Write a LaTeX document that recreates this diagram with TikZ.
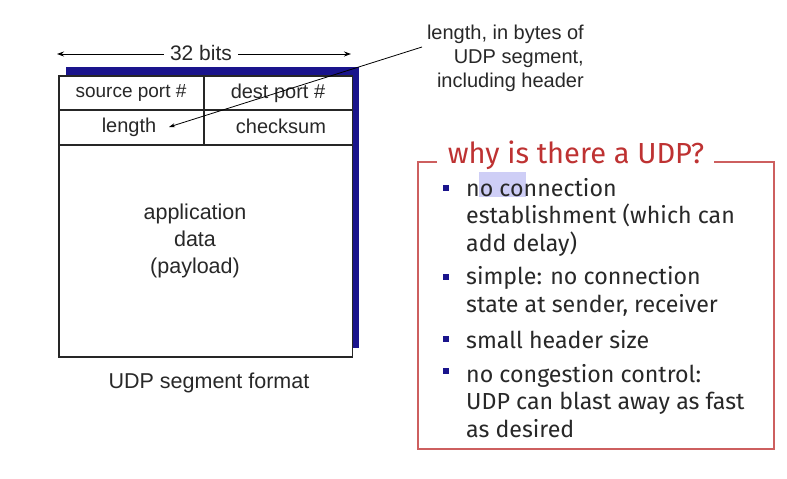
\documentclass[tikz,border=0pt]{standalone}
\usepackage{fontspec}
\setmainfont{Liberation Sans}
\newfontfamily\boxfont{Fira Sans}
\usetikzlibrary{arrows.meta}
\definecolor{navy}{RGB}{26,20,140}
\definecolor{udpred}{RGB}{190,50,50}
\definecolor{boxline}{RGB}{205,95,95}
\definecolor{txt}{RGB}{40,40,40}
\definecolor{hilite}{RGB}{206,206,246}
\tikzset{
  field/.style={font=\fontsize{20}{22}\selectfont, text=txt},
  note/.style={font=\fontsize{20}{24}\selectfont, text=txt, align=right},
  bullettext/.style={font=\boxfont\fontsize{23.2}{27.5}\selectfont, text=txt, align=left, anchor=west, inner sep=0pt},
  bulletmark/.style={fill=navy, minimum size=5.5pt, inner sep=0pt},
}
\begin{document}
\begin{tikzpicture}[x=1pt,y=-1pt]
\useasboundingbox (0,0) rectangle (787,479);
\fill[white] (0,0) rectangle (787,479);

% segment drawing: shadow then frame
\fill[navy] (66,67) rectangle (359,76);
\fill[navy] (352,67) rectangle (359,348);
\fill[white] (59,76) rectangle (352.5,357);
\draw[line width=1.1pt, black!85] (59,76) rectangle (352.5,357);
\draw[line width=1.1pt, black!85] (59,110) -- (352.5,110);
\draw[line width=1.1pt, black!85] (59,145) -- (352.5,145);
\draw[line width=1.1pt, black!85] (204,76) -- (204,145);

\node[field, font=\fontsize{19}{22}\selectfont] (src) at (131,93) {source port \#};
\node[field] (dst) at (278,93) {dest port \#};
\node[field] (len) at (129,127) {length};
\node[field] (chk) at (281,126) {checksum};
\node[field, align=center, font=\fontsize{21.5}{27}\selectfont] (app) at (195,241) {application\\data\\(payload)};
\node[field, font=\fontsize{21.5}{24}\selectfont] (cap) at (209,383) {UDP segment format};

% width marker
\node[field, font=\fontsize{21}{24}\selectfont, inner xsep=6pt] (bits) at (201,53) {32 bits};
\coordinate (bl) at (57,54);
\coordinate (br) at (351,54);
\draw[-{Stealth[length=7pt,width=5pt]}, line width=0.9pt] (bits.west |- bl) -- (bl);
\draw[-{Stealth[length=7pt,width=5pt]}, line width=0.9pt] (bits.east |- br) -- (br);

% annotation
\node[note, anchor=north east, inner sep=0pt] (note) at (584,25) {length, in bytes of\\UDP segment,\\including header};
\coordinate (notept) at (422,47);
\coordinate (lenpt) at (169,127);
\draw[-{Stealth[length=6pt,width=4pt]}, line width=0.8pt] (notept) -- (lenpt);

% why UDP box
\draw[boxline, line width=1.3pt] (437,162) -- (418,162) -- (418,449) -- (774,449) -- (774,162) -- (714,162);
\node[font=\boxfont\fontsize{29}{32}\selectfont, text=udpred, inner sep=0pt] (title) at (576,155) {why is there a UDP?};

\fill[hilite] (479,172) rectangle (526,197);

\node[bulletmark] (b1) at (446,188) {};
\node[bullettext] (t1) at (466,217) {no connection\\establishment (which can\\add delay)};
\node[bulletmark] (b2) at (446,277) {};
\node[bullettext] (t2) at (466,291.5) {simple: no connection\\state at sender, receiver};
\node[bulletmark] (b3) at (446,339) {};
\node[bullettext] (t3) at (466,340) {small header size};
\node[bulletmark] (b4) at (446,371) {};
\node[bullettext] (t4) at (466,401) {no congestion control:\\UDP can blast away as fast\\as desired};
\end{tikzpicture}
\end{document}
